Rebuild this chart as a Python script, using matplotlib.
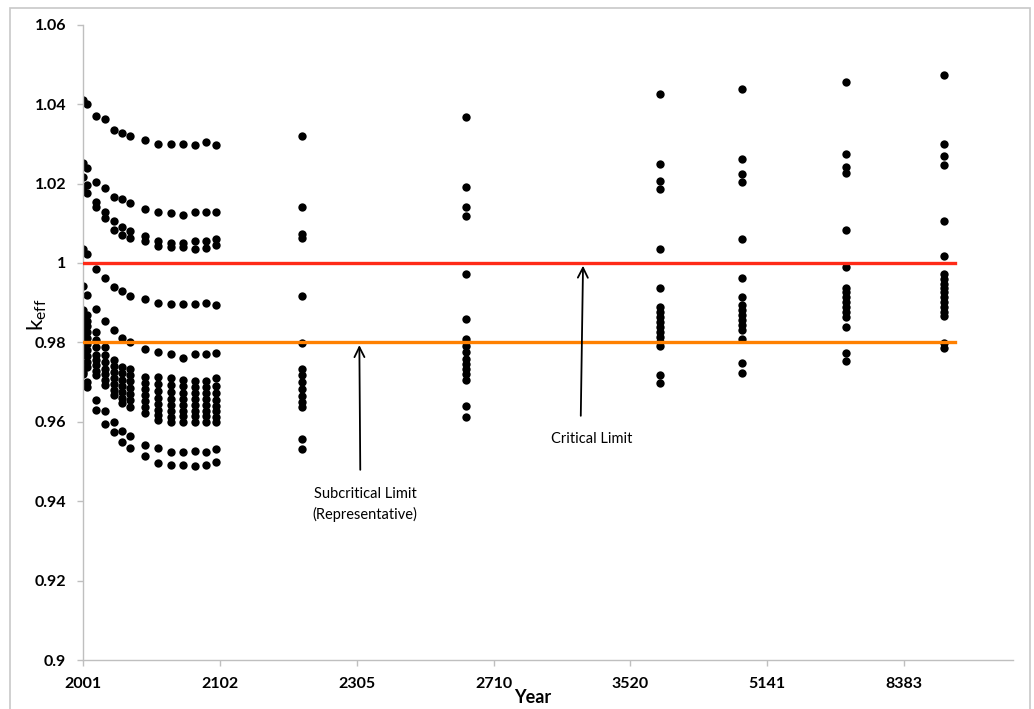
import numpy as np
import matplotlib.pyplot as plt
from matplotlib.patches import Rectangle

plt.rcParams['font.family'] = ['Lato', 'DejaVu Sans']

# years of each column of points
years = [2001, 2003, 2008, 2013, 2018, 2023, 2028, 2038, 2048, 2058, 2068, 2078,
         2088, 2098, 2207, 2604, 3787, 4758, 6729, 9863]

# k_eff values per year
k_2001 = [1.0410, 1.0251, 1.0217, 1.0190, 1.0034, 0.9941, 0.9881, 0.9868, 0.9858, 0.9848,
          0.9838, 0.9828, 0.9818, 0.9808, 0.9798, 0.9788, 0.9778, 0.9768, 0.9725, 0.9721]
k_2003 = [1.0400, 1.0240, 1.0195, 1.0177, 1.0022, 0.9920, 0.9870, 0.9855, 0.9840, 0.9825,
          0.9810, 0.9795, 0.9780, 0.9765, 0.9750, 0.9737, 0.9700, 0.9687]
k_2008 = [1.0370, 1.0204, 1.0154, 1.0141, 0.9984, 0.9885, 0.9826, 0.9805, 0.9788, 0.9767,
          0.9755, 0.9742, 0.9729, 0.9717, 0.9655, 0.9630]
k_2013 = [1.0362, 1.0188, 1.0129, 1.0112, 0.9962, 0.9853, 0.9788, 0.9767, 0.9750, 0.9734,
          0.9720, 0.9706, 0.9692, 0.9626, 0.9595]
k_2018 = [1.0336, 1.0166, 1.0106, 1.0084, 0.9939, 0.9832, 0.9755, 0.9740, 0.9725, 0.9710,
          0.9695, 0.9680, 0.9668, 0.9599, 0.9574]
k_2023 = [1.0328, 1.0160, 1.0091, 1.0070, 0.9929, 0.9812, 0.9738, 0.9722, 0.9706, 0.9690,
          0.9675, 0.9660, 0.9647, 0.9576, 0.9549]
k_2028 = [1.0320, 1.0150, 1.0080, 1.0063, 0.9916, 0.9801, 0.9734, 0.9718, 0.9702, 0.9686,
          0.9670, 0.9654, 0.9638, 0.9563, 0.9533]
k_2038 = [1.0309, 1.0137, 1.0069, 1.0054, 0.9908, 0.9782, 0.9712, 0.9697, 0.9682, 0.9667,
          0.9652, 0.9637, 0.9622, 0.9542, 0.9513]
k_2048 = [1.0299, 1.0128, 1.0054, 1.0042, 0.9899, 0.9776, 0.9712, 0.9695, 0.9678, 0.9661,
          0.9645, 0.9630, 0.9616, 0.9604, 0.9534, 0.9497]
k_2058 = [1.0299, 1.0125, 1.0049, 1.0039, 0.9896, 0.9771, 0.9709, 0.9692, 0.9675, 0.9658,
          0.9642, 0.9627, 0.9613, 0.9600, 0.9524, 0.9492]
k_2068 = [1.0299, 1.0120, 1.0049, 1.0039, 0.9896, 0.9761, 0.9705, 0.9689, 0.9673, 0.9657,
          0.9642, 0.9628, 0.9614, 0.9600, 0.9525, 0.9492]
k_2078 = [1.0298, 1.0128, 1.0055, 1.0036, 0.9897, 0.9771, 0.9702, 0.9687, 0.9672, 0.9657,
          0.9642, 0.9628, 0.9614, 0.9600, 0.9526, 0.9488]
k_2088 = [1.0304, 1.0128, 1.0056, 1.0038, 0.9898, 0.9771, 0.9702, 0.9687, 0.9672, 0.9657,
          0.9642, 0.9628, 0.9614, 0.9600, 0.9525, 0.9492]
k_2098 = [1.0298, 1.0128, 1.0061, 1.0045, 0.9893, 0.9774, 0.9709, 0.9690, 0.9672, 0.9655,
          0.9640, 0.9626, 0.9613, 0.9600, 0.9532, 0.9498]
k_2207 = [1.0320, 1.0140, 1.0074, 1.0063, 0.9917, 0.9798, 0.9734, 0.9717, 0.9700, 0.9683,
          0.9666, 0.9649, 0.9637, 0.9557, 0.9532]
k_2604 = [1.0367, 1.0192, 1.0140, 1.0118, 0.9971, 0.9860, 0.9809, 0.9801, 0.9792, 0.9776,
          0.9759, 0.9746, 0.9734, 0.9721, 0.9706, 0.9639, 0.9613]
k_3787 = [1.0425, 1.0248, 1.0207, 1.0186, 1.0035, 0.9938, 0.9889, 0.9876, 0.9864, 0.9851,
          0.9839, 0.9826, 0.9813, 0.9801, 0.9791, 0.9719, 0.9697]
k_4758 = [1.0437, 1.0261, 1.0225, 1.0203, 1.0059, 0.9962, 0.9914, 0.9893, 0.9881, 0.9868,
          0.9856, 0.9843, 0.9830, 0.9809, 0.9749, 0.9724]
k_6729 = [1.0455, 1.0274, 1.0242, 1.0227, 1.0084, 0.9990, 0.9938, 0.9927, 0.9914, 0.9902,
          0.9889, 0.9876, 0.9864, 0.9839, 0.9773, 0.9752]
k_9863 = [1.0472, 1.0299, 1.0269, 1.0247, 1.0106, 1.0017, 0.9972, 0.9959, 0.9948, 0.9938,
          0.9927, 0.9914, 0.9902, 0.9889, 0.9876, 0.9866, 0.9799, 0.9786]

columns = [k_2001, k_2003, k_2008, k_2013, k_2018, k_2023, k_2028, k_2038, k_2048, k_2058,
           k_2068, k_2078, k_2088, k_2098, k_2207, k_2604, k_3787, k_4758, k_6729, k_9863]

# limit lines
limit_years = [2001, 10300]
critical_limit = 1.0
subcritical_limit = 0.98

tick_years = [2001, 2102, 2305, 2710, 3520, 5141, 8383]
y_ticks = [0.9, 0.92, 0.94, 0.96, 0.98, 1.0, 1.02, 1.04, 1.06]
y_labels = ['0.9', '0.92', '0.94', '0.96', '0.98', '1', '1.02', '1.04', '1.06']


def fwd(x):
    return np.log2(np.maximum(np.asarray(x, dtype=float) - 1900, 1e-6))


def inv(x):
    return 2 ** np.asarray(x, dtype=float) + 1900


fig = plt.figure(figsize=(10.34, 7.09), dpi=100, facecolor='white')
ax = fig.add_axes([0.0803, 0.0691, 0.8994, 0.8961])
ax.set_xscale('function', functions=(fwd, inv))

for yr, vals in zip(years, columns):
    ax.plot([yr] * len(vals), vals, 'o', color='black', ms=6, mec='black', mew=0,
            linestyle='none', zorder=2)

ax.plot(limit_years, [critical_limit] * 2, color='#ff2a17', lw=2.4, zorder=3)
ax.plot(limit_years, [subcritical_limit] * 2, color='#ff8000', lw=2.4, zorder=3)

ax.set_xlim(2001, 13180)
ax.set_ylim(0.9, 1.06)
ax.set_xticks(tick_years)
ax.set_xticklabels([str(t) for t in tick_years])
ax.xaxis.set_minor_locator(plt.NullLocator())
ax.set_yticks(y_ticks)
ax.set_yticklabels(y_labels)

for side in ['top', 'right']:
    ax.spines[side].set_visible(False)
for side in ['left', 'bottom']:
    ax.spines[side].set_color('#bfbfbf')
    ax.spines[side].set_linewidth(1.0)
ax.tick_params(axis='both', direction='out', length=4, color='#bfbfbf', width=1,
               labelsize=11.5, pad=8)
for lbl in ax.get_xticklabels() + ax.get_yticklabels():
    lbl.set_fontweight('bold')

ax.set_xlabel('Year', fontsize=13, fontweight='bold')
ax.xaxis.set_label_coords(0.483, -0.046)
ax.set_ylabel(r'k$_{\mathregular{eff}}$', fontsize=16)
ax.yaxis.set_label_coords(-0.037, 0.543)

# arrows and labels
ax.annotate('', xy=(2310, 0.98), xytext=(2312, 0.9472),
            arrowprops=dict(arrowstyle='->', color='black', lw=1.3, mutation_scale=18),
            zorder=4)
ax.text(2322, 0.9391, 'Subcritical Limit\n(Representative)', ha='center', va='center',
        fontsize=10.5, linespacing=1.5)
ax.annotate('', xy=(3175, 1.0), xytext=(3160, 0.9608),
            arrowprops=dict(arrowstyle='->', color='black', lw=1.3, mutation_scale=18),
            zorder=4)
ax.text(3234, 0.9557, 'Critical Limit', ha='center', va='center', fontsize=10.5)

# chart area border
fig.patches.append(Rectangle((10 / 1034, -0.01), 1020 / 1034, 1 - 8 / 709 + 0.01,
                             transform=fig.transFigure, fill=False,
                             edgecolor='#c8c8c8', lw=1.2))

fig.savefig('out.png', dpi=100)
